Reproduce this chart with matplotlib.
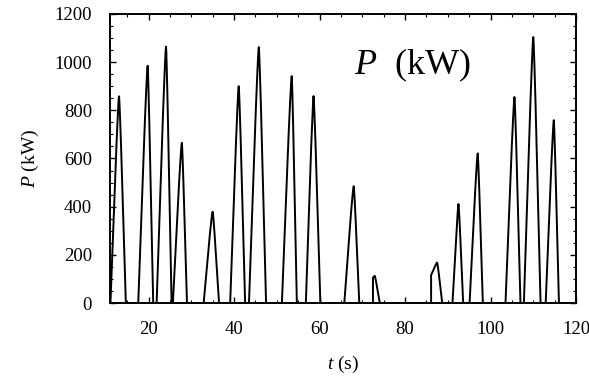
import numpy as np
import matplotlib
matplotlib.use("Agg")
import matplotlib.pyplot as plt
from matplotlib.ticker import MultipleLocator

# ---- data ----
# each pulse: start time, peak time, end time (s), peak power (kW), level at start (kW)
pulse_start = [11.1, 17.6, 21.9, 25.7, 32.9, 39.1, 43.5, 51.2, 56.8, 65.8, 72.5, 86.1, 91.1, 95.1, 103.5, 107.8, 112.9]
pulse_peak_t = [13.1, 19.8, 24.1, 27.8, 35.0, 41.1, 45.8, 53.5, 58.6, 68.0, 72.9, 87.5, 92.5, 97.0, 105.6, 110.0, 114.8]
pulse_end = [14.7, 21.1, 25.4, 29.0, 36.5, 42.6, 47.5, 54.7, 60.2, 69.3, 74.1, 88.7, 93.6, 98.2, 107.0, 111.7, 116.0]
pulse_height = [858, 985, 1064, 665, 379, 900, 1062, 942, 859, 485, 113, 168, 411, 621, 855, 1104, 759]
pulse_level0 = [0, 0, 0, 0, 0, 0, 0, 0, 0, 0, 105, 116, 0, 0, 0, 0, 0]

# normalised pulse profile (fraction of rise time -> fraction of height)
profile_u = [0.0, 0.25, 0.5, 0.7, 0.85, 0.95, 1.0]
profile_v = [0.0, 0.27, 0.54, 0.76, 0.90, 0.98, 1.0]

t_min, t_max = 11, 120

# ---- build the trace ----
ts = [t_min]
ps = [0.0]
u = np.array(profile_u)
v = np.array(profile_v)
for s, pk, e, h, l0 in zip(pulse_start, pulse_peak_t, pulse_end, pulse_height, pulse_level0):
    ts.append(s); ps.append(0.0)
    rise_t = s + u * (pk - s)
    rise_p = l0 + v * (h - l0)
    ts.extend(rise_t); ps.extend(rise_p)
    fall_t = pk + (1 - u[::-1]) * (e - pk)
    fall_p = v[::-1] * h
    ts.extend(fall_t[1:]); ps.extend(fall_p[1:])
ts.append(t_max); ps.append(0.0)

plt.rcParams['font.family'] = ['Liberation Serif', 'DejaVu Serif']
plt.rcParams['mathtext.fontset'] = 'custom'
plt.rcParams['mathtext.rm'] = 'Liberation Serif'
plt.rcParams['mathtext.it'] = 'Liberation Serif:italic'

fig = plt.figure(figsize=(5.89, 3.76), dpi=100)
ax = fig.add_axes([0.1868, 0.194, 0.7912, 0.769])
ax.plot(ts, ps, color='black', lw=1.4)

ax.set_xlim(t_min, t_max)
ax.set_ylim(0, 1200)
ax.xaxis.set_major_locator(MultipleLocator(20))
ax.xaxis.set_minor_locator(MultipleLocator(5))
ax.yaxis.set_major_locator(MultipleLocator(200))
ax.yaxis.set_minor_locator(MultipleLocator(50))
ax.tick_params(which='both', direction='in', top=True, right=True, labelsize=13.5, pad=13)
ax.tick_params(which='major', length=4, width=1)
ax.tick_params(which='minor', length=2.5, width=0.8)
for sp in ax.spines.values():
    sp.set_linewidth(1.4)

ax.set_xlabel(r'$t$ (s)', fontsize=14, labelpad=11)
ax.set_ylabel(r'$P$ (kW)', fontsize=14, labelpad=10)
ax.text(0.648, 0.822, r'$P$  (kW)', transform=ax.transAxes, fontsize=26,
        ha='center', va='center')

fig.savefig('out.png', dpi=100)
